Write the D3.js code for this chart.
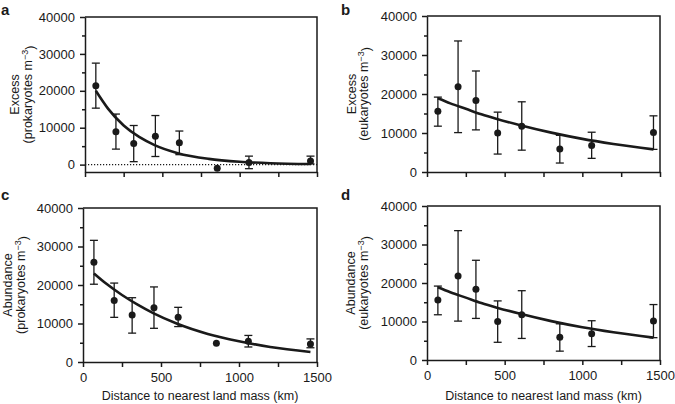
<!DOCTYPE html>
<html>
<head>
<meta charset="utf-8">
<script src="https://cdn.jsdelivr.net/npm/d3@7"></script>
<style>
  html, body { margin: 0; padding: 0; background: #fff; }
  svg { display: block; font-family: "Liberation Sans", Arial, Helvetica, sans-serif; }
</style>
</head>
<body>
<svg id="chart" width="675" height="404"></svg>
<script>
// ---------------- DATA ----------------
const distanceKm = [70, 200, 315, 455, 610, 855, 1060, 1458];

// a: Excess prokaryotes
const excessProk   = [21400, 8900, 5700, 7700, 5900, -1000, 600, 1000];
const excessProkHi = [27500, 13700, 10600, 13300, 9100, -1000, 2300, 2300];
const excessProkLo = [15300, 4200, 800, 2200, 2700, -1000, -1100, 200];

// b: Excess eukaryotes
const excessEuk   = [15600, 21850, 18350, 10000, 11750, 5900, 6800, 10100];
const excessEukHi = [19200, 33600, 25900, 15350, 18000, 9400, 10200, 14400];
const excessEukLo = [11750, 10100, 10800, 4600, 5600, 2300, 3500, 5800];

// c: Abundance prokaryotes
const abundProk   = [25900, 16000, 12200, 14100, 11600, 4900, 5400, 4700];
const abundProkHi = [31600, 20500, 16700, 19500, 14200, 4900, 6900, 6000];
const abundProkLo = [20200, 11600, 7500, 8750, 9200, 4900, 3900, 3700];

// d: Abundance eukaryotes
const abundEuk   = [15600, 21850, 18350, 10000, 11750, 5900, 6800, 10100];
const abundEukHi = [19200, 33600, 25900, 15350, 18000, 9400, 10200, 14400];
const abundEukLo = [11750, 10100, 10800, 4600, 5600, 2300, 3500, 5800];

// fitted curves
const curveKm       = [70, 150, 250, 350, 450, 600, 800, 1000, 1200, 1458];
const curveExProk   = [20000, 15100, 10600, 7500, 5300, 3100, 1550, 770, 380, 160];
const curveExEuk    = [18900, 17600, 16200, 14800, 13600, 12000, 10100, 8500, 7200, 5800];
const curveAbProk   = [23000, 20300, 17400, 14900, 12700, 10000, 7300, 5400, 3900, 2600];
const curveAbEuk    = [18900, 17600, 16200, 14800, 13600, 12000, 10100, 8500, 7200, 5800];

const yMajorTicks = [0, 10000, 20000, 30000, 40000];
const yMinorTicks = [5000, 15000, 25000, 35000];
const xTicks = [0, 250, 500, 750, 1000, 1250, 1500];
const xLabelTicks = [0, 500, 1000, 1500];
const xTitle = "Distance to nearest land mass (km)";

// ---------------- DRAW ----------------
const svg = d3.select("#chart");
const ink = "#1a1a1a";

function panel(cfg) {
  const g = svg.append("g");
  const x = d3.scaleLinear().domain([0, 1500]).range([cfg.left, cfg.right]);
  const y = d3.scaleLinear().domain(cfg.yDomain).range([cfg.bottom, cfg.top]);

  // zero dotted line
  if (cfg.zeroLine) {
    g.append("line")
      .attr("x1", cfg.left).attr("x2", cfg.right)
      .attr("y1", y(0)).attr("y2", y(0))
      .attr("stroke", ink).attr("stroke-width", 1.1)
      .attr("stroke-dasharray", "1.2,1.8");
  }

  // frame top & right
  g.append("path")
    .attr("d", `M${cfg.left},${cfg.top}H${cfg.right}V${cfg.bottom}`)
    .attr("fill", "none").attr("stroke", ink).attr("stroke-width", 1.5);

  // y axis
  const yAx = g.append("g").attr("transform", `translate(${cfg.left},0)`)
    .call(d3.axisLeft(y).tickValues(yMajorTicks).tickSize(5).tickSizeOuter(0)
      .tickPadding(5).tickFormat(d3.format("d")));
  const yMin = g.append("g").attr("transform", `translate(${cfg.left},0)`)
    .call(d3.axisLeft(y).tickValues(yMinorTicks).tickSize(3).tickSizeOuter(0).tickFormat(""));
  yMin.select(".domain").remove();

  // x axis
  const xAx = g.append("g").attr("transform", `translate(0,${cfg.bottom})`)
    .call(d3.axisBottom(x).tickValues(xTicks).tickSize(5).tickSizeOuter(0).tickPadding(6)
      .tickFormat(d => cfg.xLabels && xLabelTicks.includes(d) ? String(d) : ""));

  [yAx, yMin, xAx].forEach(a => {
    a.selectAll(".domain").attr("stroke", ink).attr("stroke-width", 1.5);
    a.selectAll(".tick line").attr("stroke", ink).attr("stroke-width", 1.5);
    a.selectAll(".tick text").attr("fill", ink).attr("font-size", 13)
      .attr("font-family", "'Liberation Sans', Arial, sans-serif");
  });

  // fitted curve
  const line = d3.line().x(d => x(d[0])).y(d => y(d[1])).curve(d3.curveMonotoneX);
  g.append("path")
    .datum(curveKm.map((k, i) => [k, cfg.curve[i]]))
    .attr("d", line).attr("fill", "none")
    .attr("stroke", ink).attr("stroke-width", 2.6);

  // error bars
  const eb = g.append("g").attr("stroke", ink).attr("stroke-width", 1.3);
  distanceKm.forEach((km, i) => {
    const hi = cfg.hi[i], lo = cfg.lo[i];
    if (hi === lo) return;
    const cx = x(km);
    eb.append("line").attr("x1", cx).attr("x2", cx).attr("y1", y(hi)).attr("y2", y(lo));
    eb.append("line").attr("x1", cx - 4).attr("x2", cx + 4).attr("y1", y(hi)).attr("y2", y(hi));
    eb.append("line").attr("x1", cx - 4).attr("x2", cx + 4).attr("y1", y(lo)).attr("y2", y(lo));
  });

  // points
  g.selectAll("circle.pt").data(cfg.values).enter().append("circle")
    .attr("cx", (d, i) => x(distanceKm[i])).attr("cy", d => y(d))
    .attr("r", 3.5).attr("fill", ink);

  // panel letter
  g.append("text").attr("x", cfg.letterX).attr("y", cfg.letterY)
    .attr("font-size", 15).attr("font-weight", "bold").attr("fill", ink)
    .attr("font-family", "'Liberation Sans', Arial, sans-serif")
    .text(cfg.letter);

  // y title (two lines, rotated)
  const cy = (cfg.top + cfg.bottom) / 2;
  g.append("text")
    .attr("transform", `translate(${cfg.left - cfg.t1},${cy}) rotate(-90)`)
    .attr("text-anchor", "middle").attr("font-size", 12.5).attr("fill", ink)
    .text(cfg.title1);
  const t2 = g.append("text")
    .attr("transform", `translate(${cfg.left - cfg.t2},${cy}) rotate(-90)`)
    .attr("text-anchor", "middle").attr("font-size", 12.5).attr("fill", ink);
  t2.append("tspan").text("(" + cfg.title2 + " m");
  t2.append("tspan").attr("dy", "-0.45em").attr("font-size", 9).text("\u22123");
  t2.append("tspan").attr("dy", "0.45em").text(")");

  // x title
  if (cfg.xLabels) {
    g.append("text").attr("x", (cfg.left + cfg.right) / 2).attr("y", 400)
      .attr("text-anchor", "middle").attr("font-size", 12.5).attr("fill", ink)
      .text(xTitle);
  }
}

panel({ left: 85, right: 317, top: 17, bottom: 172, yDomain: [-2000, 40000],
  values: excessProk, hi: excessProkHi, lo: excessProkLo, curve: curveExProk,
  letter: "a", letterX: 1, letterY: 15, title1: "Excess", title2: "prokaryotes",
  t1: 66, t2: 53, xLabels: false, zeroLine: true });

panel({ left: 427, right: 660, top: 16, bottom: 172, yDomain: [0, 40000],
  values: excessEuk, hi: excessEukHi, lo: excessEukLo, curve: curveExEuk,
  letter: "b", letterX: 341, letterY: 15, title1: "Excess", title2: "eukaryotes",
  t1: 71, t2: 59, xLabels: false, zeroLine: false });

panel({ left: 83, right: 317, top: 208, bottom: 362, yDomain: [0, 40000],
  values: abundProk, hi: abundProkHi, lo: abundProkLo, curve: curveAbProk,
  letter: "c", letterX: 1, letterY: 200, title1: "Abundance", title2: "prokaryotes",
  t1: 71, t2: 58, xLabels: true, zeroLine: false });

panel({ left: 427, right: 660, top: 206, bottom: 360, yDomain: [0, 40000],
  values: abundEuk, hi: abundEukHi, lo: abundEukLo, curve: curveAbEuk,
  letter: "d", letterX: 341, letterY: 200, title1: "Abundance", title2: "eukaryotes",
  t1: 72, t2: 59, xLabels: true, zeroLine: false });
</script>
</body>
</html>
